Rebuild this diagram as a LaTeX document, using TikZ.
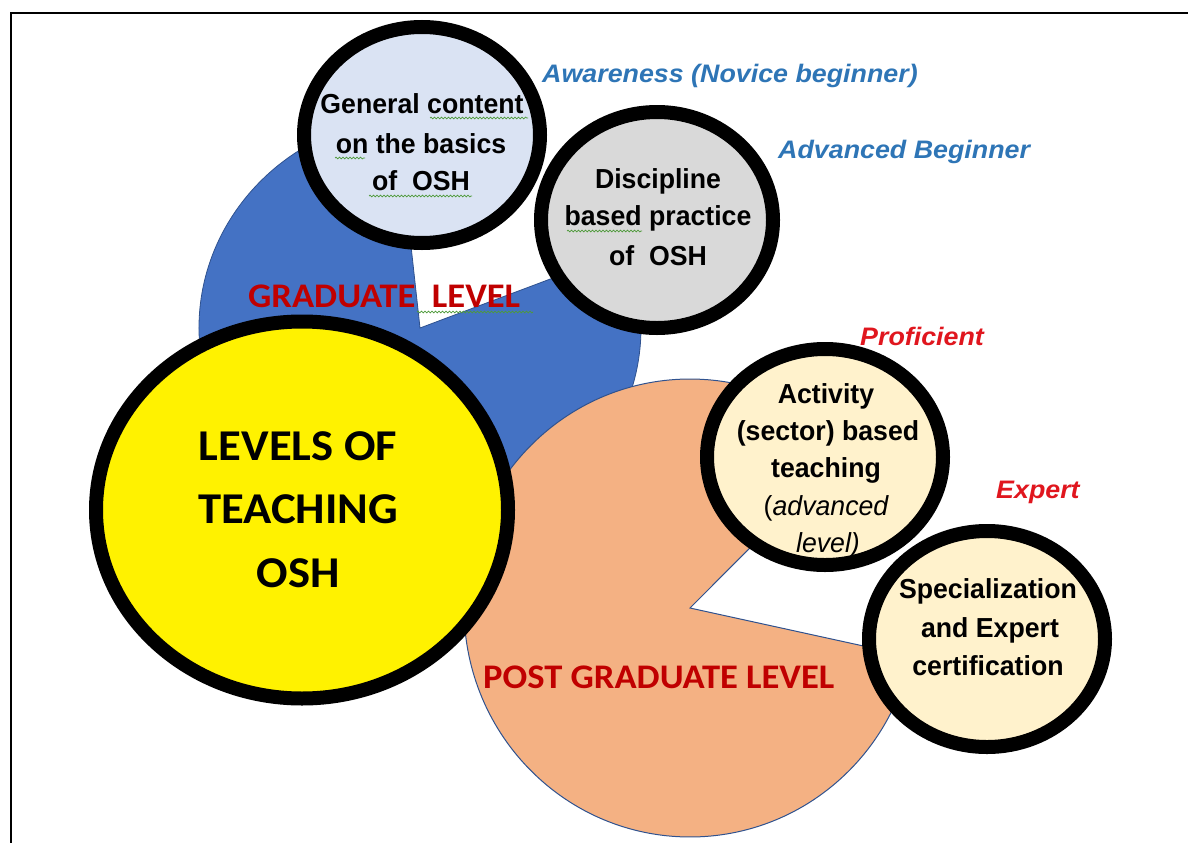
\documentclass[tikz,border=0pt]{standalone}
\usepackage{fontspec}
\setmainfont{Liberation Sans}
\newfontfamily\fontArl[FakeStretch=1.06]{Liberation Sans}
\newfontfamily\fontArc[FakeStretch=0.97]{Liberation Sans}
\newfontfamily\fontCarl[FakeStretch=1.06]{Carlito}
\usetikzlibrary{shapes.geometric,decorations.pathmorphing}
\definecolor{pieblue}{HTML}{4472C4}
\definecolor{pieorange}{HTML}{F4B183}
\definecolor{pieline}{HTML}{2F528F}
\definecolor{genfill}{HTML}{DAE3F3}
\definecolor{disfill}{HTML}{D9D9D9}
\definecolor{creamfill}{HTML}{FFF2CC}
\definecolor{lvlblue}{HTML}{2E75B6}
\definecolor{lvlred}{HTML}{E0161E}
\definecolor{gradred}{HTML}{C00000}
\definecolor{spellgreen}{HTML}{4E9A3A}
\tikzset{
  bub/.style={ellipse, draw=black, line width=14pt, inner sep=0pt, minimum width=236pt, minimum height=216pt},
  ctext/.style={font=\fontArc\bfseries\fontsize{27.5}{30}\selectfont, anchor=base, inner sep=0pt},
  citext/.style={font=\fontArc\itshape\fontsize{27.5}{30}\selectfont, anchor=base, inner sep=0pt},
  lvl/.style={font=\fontArl\bfseries\itshape\fontsize{25.3}{30}\selectfont, anchor=base west, inner sep=0pt},
  bigtext/.style={font=\fontCarl\bfseries\fontsize{44}{50}\selectfont, anchor=base, inner sep=0pt},
  gradtext/.style={font=\fontCarl\bfseries\fontsize{34.5}{40}\selectfont, text=gradred, anchor=base west, inner sep=0pt},
  spell/.style={draw=spellgreen, line width=0.7pt, decorate, decoration={snake, amplitude=0.9pt, segment length=3.5pt}}
}
\begin{document}
\begin{tikzpicture}[x=1pt,y=1pt]
\useasboundingbox (0,0) rectangle (1188,-843);
% frame
\draw[line width=2pt] (1188,-13) -- (11,-13) -- (11,-843);
% blue pie
\filldraw[fill=pieblue, draw=pieline, line width=0.8pt]
  (420,-328) -- ++(96:221 and 212) arc[start angle=96, end angle=381.4, x radius=221, y radius=212] -- cycle;
% orange pie
\filldraw[fill=pieorange, draw=pieline, line width=1pt]
  (690,-608) -- ++(44.7:226 and 229) arc[start angle=44.7, end angle=347.8, x radius=226, y radius=229] -- cycle;
% central circle
\node[bub, fill=yellow, minimum width=412pt, minimum height=377pt] (main) at (302,-510) {};
\node[bigtext] (m1) at (298,-460) {LEVELS OF};
\node[bigtext] (m2) at (298,-523) {TEACHING};
\node[bigtext] (m3) at (298,-587) {OSH};
% level labels
\node[gradtext] (grad) at (248,-307) {GRADUATE\ \ LEVEL};
\draw[spell] (417,-312) -- (533,-312);
\node[gradtext] (pgrad) at (483,-688) {POST GRADUATE LEVEL};
% general content
\node[bub, fill=genfill] (gen) at (422,-135) {};
\node[ctext] (g1) at (422,-113) {General content};
\node[ctext] (g2) at (421,-153) {on the basics};
\node[ctext] (g3) at (421,-190) {of\ \ OSH};
\draw[spell] (430,-118) -- (528,-118);
\draw[spell] (335,-158) -- (365,-158);
\draw[spell] (369,-196) -- (472,-196);
% discipline
\node[bub, fill=disfill, minimum width=232pt] (dis) at (657,-220) {};
\node[ctext] (d1) at (658,-188) {Discipline};
\node[ctext] (d2) at (658,-225) {based practice};
\node[ctext] (d3) at (658,-265) {of\ \ OSH};
\draw[spell] (567,-231) -- (642,-231);
% activity
\node[bub, fill=creamfill] (act) at (825,-457) {};
\node[ctext] (a1) at (826,-403) {Activity};
\node[ctext] (a2) at (828,-440) {(sector) based};
\node[ctext] (a3) at (826,-477) {teaching};
\node[citext] (a4) at (826,-515) {\upshape(\itshape advanced};
\node[citext] (a5) at (828,-552) {level)};
% specialization
\node[bub, fill=creamfill] (spec) at (987,-639) {};
\node[ctext] (s1) at (988,-598) {Specialization};
\node[ctext] (s2) at (990,-637) {and Expert};
\node[ctext] (s3) at (988,-675) {certification};
% competence labels
\node[lvl, text=lvlblue] (aw) at (542,-82) {Awareness (Novice beginner)};
\node[lvl, text=lvlblue] (ab) at (778,-158) {Advanced Beginner};
\node[lvl, text=lvlred] (pr) at (860,-345) {Proficient};
\node[lvl, text=lvlred] (ex) at (996,-498) {Expert};
\end{tikzpicture}
\end{document}
